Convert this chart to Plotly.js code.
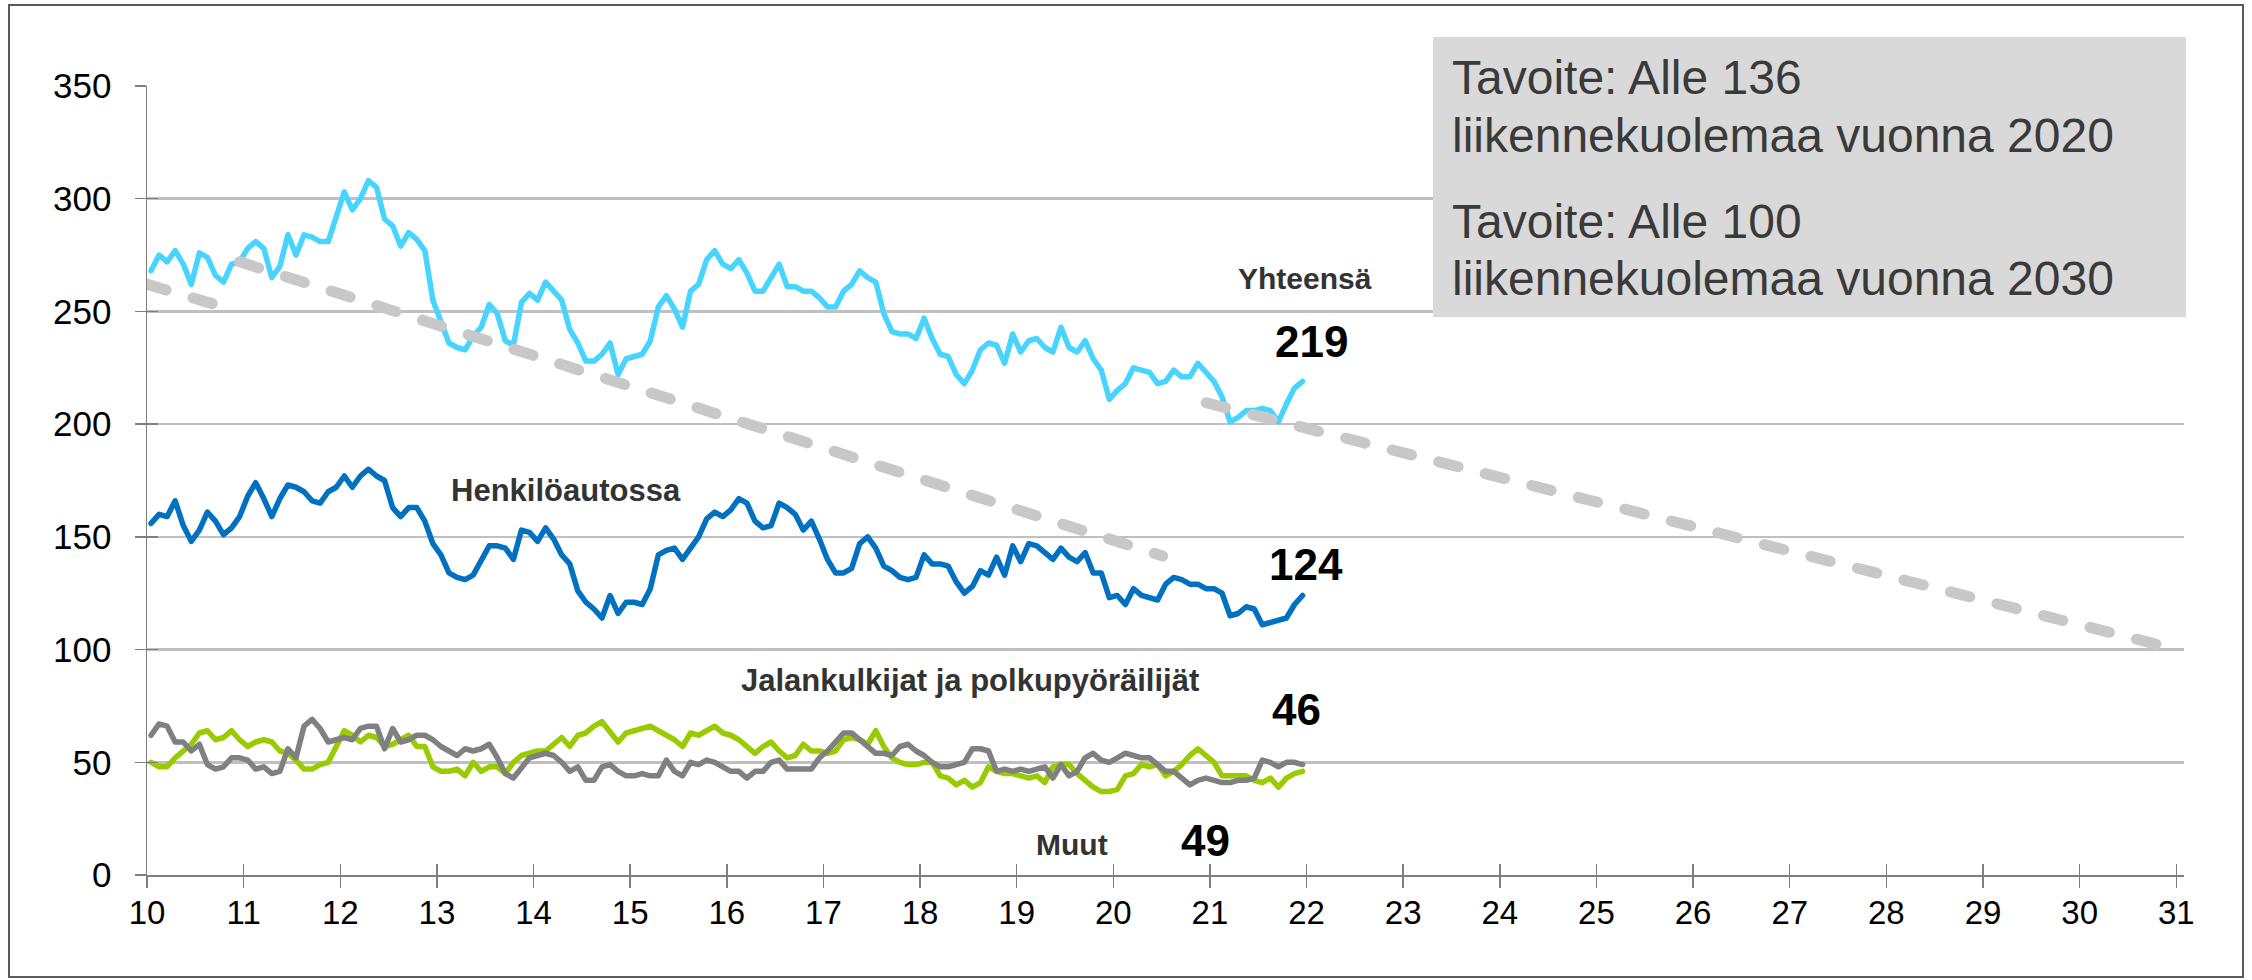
<!DOCTYPE html>
<html>
<head>
<meta charset="utf-8">
<script src="https://cdn.plot.ly/plotly-3.0.1.min.js"></script>
<style>
  html, body { margin: 0; padding: 0; background: #ffffff; }
  #chart { width: 2252px; height: 980px; }
  .scatterlayer path.js-line { stroke-linecap: round !important; stroke-linejoin: round !important; }
</style>
</head>
<body>
<div id="chart"></div>
<script>
// ---- Data (12-month rolling sums, monthly, Jan 2010 .. Dec 2021) ----
const yhteensa = [
  268, 275, 272, 277, 271, 262, 276, 274, 266, 263, 271, 272,
  278, 281, 278, 265, 270, 284, 275, 284, 283, 281, 281, 292,
  303, 295, 300, 308, 305, 291, 288, 279, 285, 282, 277, 255,
  246, 236, 234, 233, 239, 243, 253, 249, 237, 235, 254, 258,
  255, 263, 259, 255, 242, 236, 228, 228, 231, 236, 222, 229,
  230, 231, 237, 252, 257, 251, 243, 259, 262, 273, 277, 271,
  269, 273, 267, 259, 259, 265, 271, 261, 261, 259, 259, 256,
  252, 252, 259, 262, 268, 265, 263, 249, 241, 240, 240, 238,
  247, 238, 231, 230, 222, 218, 224, 233, 236, 235, 227, 240,
  232, 237, 238, 234, 232, 243, 234, 232, 237, 229, 224, 211,
  215, 218, 225, 224, 223, 218, 219, 224, 221, 221, 227, 223,
  219, 212, 201, 203, 206, 206, 207, 206, 201, 209, 216, 219
];
const henkiloautossa = [
  156, 160, 159, 166, 155, 148, 153, 161, 157, 151, 154, 159,
  168, 174, 167, 159, 167, 173, 172, 170, 166, 165, 170, 172,
  177, 172, 177, 180, 177, 175, 163, 159, 163, 163, 157, 147,
  142, 134, 132, 131, 133, 140, 146, 146, 145, 140, 153, 152,
  148, 154, 149, 142, 138, 126, 121, 118, 114, 124, 116, 121,
  121, 120, 127, 142, 144, 145, 140, 145, 150, 158, 161, 159,
  162, 167, 165, 157, 154, 155, 165, 163, 160, 153, 157, 149,
  140, 134, 134, 136, 147, 150, 145, 137, 135, 132, 131, 132,
  142, 138, 138, 137, 130, 125, 128, 135, 133, 141, 133, 146,
  139, 147, 146, 143, 140, 145, 141, 139, 143, 134, 134, 123,
  124, 120, 127, 124, 123, 122, 129, 132, 131, 129, 129, 127,
  127, 125, 115, 116, 119, 118, 111, 112, 113, 114, 120, 124
];
const jalankulkijat = [
  50, 48, 48, 52, 55, 58, 63, 64, 60, 61, 64, 60,
  57, 59, 60, 59, 55, 54, 51, 47, 47, 49, 50, 57,
  64, 62, 59, 62, 61, 57, 58, 60, 62, 57, 57, 48,
  46, 46, 47, 44, 50, 46, 48, 48, 45, 50, 53, 54,
  55, 55, 58, 61, 57, 62, 63, 66, 68, 63, 59, 63,
  64, 65, 66, 64, 62, 60, 57, 63, 62, 64, 66, 63,
  62, 60, 57, 54, 57, 59, 55, 52, 53, 58, 55, 55,
  54, 55, 60, 61, 60, 58, 64, 57, 52, 50, 49, 49,
  50, 50, 44, 43, 40, 42, 39, 41, 48, 46, 45, 45,
  44, 43, 44, 41, 48, 49, 49, 45, 42, 39, 37, 37,
  38, 44, 45, 49, 48, 49, 44, 46, 49, 53, 56, 53,
  50, 44, 44, 44, 44, 42, 41, 43, 39, 43, 45, 46
];
const muut = [
  62, 67, 66, 59, 59, 55, 58, 49, 47, 48, 52, 52,
  51, 47, 48, 45, 46, 56, 52, 66, 69, 65, 59, 60,
  61, 60, 65, 66, 66, 56, 65, 59, 60, 62, 62, 60,
  57, 55, 53, 56, 55, 56, 58, 52, 45, 43, 48, 52,
  53, 54, 53, 50, 46, 48, 42, 42, 48, 49, 46, 44,
  44, 45, 44, 44, 51, 46, 44, 50, 49, 51, 50, 48,
  46, 46, 43, 46, 46, 50, 51, 47, 47, 47, 47, 52,
  55, 59, 63, 63, 60, 57, 54, 54, 53, 57, 58, 55,
  53, 50, 48, 48, 49, 50, 56, 56, 55, 46, 47, 46,
  47, 46, 47, 48, 43, 49, 44, 46, 52, 54, 51, 50,
  52, 54, 53, 52, 52, 49, 46, 46, 43, 40, 42, 43,
  42, 41, 41, 42, 42, 43, 51, 50, 48, 50, 50, 49
];
// Target lines (dashed): [year, value]
const targetOldX = [10.0, 10.75];
const targetOldY = [262, 252.5];
const target2020X = [10.958, 20.51];
const target2020Y = [272, 141.5];
const target2030X = [20.96, 30.8];
const target2030Y = [209.5, 102.3];

const xTickVals = [10,11,12,13,14,15,16,17,18,19,20,21,22,23,24,25,26,27,28,29,30,31];
const xTickLabels = ['10','11','12','13','14','15','16','17','18','19','20','21','22','23','24','25','26','27','28','29','30','31'];
const yTickVals = [0, 50, 100, 150, 200, 250, 300, 350];

// month positions on the year axis (month centre)
const months = yhteensa.map((_, i) => 10 + (i + 0.5) / 12);

// ---- Layout geometry ----
const W = 2252, H = 980;
const M = { l: 147, r: 68, t: 86, b: 105 };
const PW = W - M.l - M.r, PH = H - M.t - M.b;
const px = x => (x - M.l) / PW;
const py = y => (H - M.b - y) / PH;

const FONT = 'Liberation Sans, Arial, sans-serif';
const C = { cyan: '#47D4FF', blue: '#0070C0', green: '#99CC00', gray: '#808080', dash: '#C8C8C8' };

function line(x, y, color, width, extra) {
  return Object.assign({ type: 'scatter', mode: 'lines', x: x, y: y,
    line: { color: color, width: width }, hoverinfo: 'skip' }, extra || {});
}

const traces = [
  line(months, jalankulkijat, C.green, 5.5),
  line(months, muut, C.gray, 5.5),
  line(months, henkiloautossa, C.blue, 5.5),
  line(months, yhteensa, C.cyan, 5.5),
  line(targetOldX, targetOldY, C.dash, 11, { xaxis: 'x3', yaxis: 'y2' }),
  line(target2020X, target2020Y, C.dash, 11, { xaxis: 'x2', yaxis: 'y2' }),
  line(target2030X, target2030Y, C.dash, 11, { xaxis: 'x2', yaxis: 'y2' })
];
traces.slice(4).forEach(t => t.line.dash = '20px,28px');

function lbl(text, x, y, size, color, bold, anchor) {
  return { text: bold ? '<b>' + text + '</b>' : text, xref: 'paper', yref: 'paper',
    x: px(x), y: py(y), xanchor: anchor || 'center', yanchor: 'middle', showarrow: false,
    font: { family: FONT, size: size, color: color } };
}

const annotations = [
  lbl('Yhteensä', 1305, 278, 30, '#333333', true),
  lbl('219', 1311, 341, 44, '#000000', true),
  lbl('Henkilöautossa', 566, 490, 31, '#333333', true),
  lbl('124', 1306, 564, 44, '#000000', true),
  lbl('Jalankulkijat ja polkupyöräilijät', 970, 680, 31, '#333333', true),
  lbl('46', 1296, 709, 44, '#000000', true),
  lbl('Muut', 1072, 844, 30, '#333333', true),
  lbl('49', 1205, 840, 44, '#000000', true),
  lbl('Tavoite: Alle 136', 1450, 77, 48, '#3A3A3A', false, 'left'),
  lbl('liikennekuolemaa vuonna 2020', 1450, 135, 48, '#3A3A3A', false, 'left'),
  lbl('Tavoite: Alle 100', 1450, 221, 48, '#3A3A3A', false, 'left'),
  lbl('liikennekuolemaa vuonna 2030', 1450, 278, 48, '#3A3A3A', false, 'left')
];

const shapes = [
  { type: 'rect', xref: 'paper', yref: 'paper', layer: 'above',
    x0: px(1433), x1: px(2186), y0: py(317), y1: py(37),
    fillcolor: '#D9D9D9', line: { width: 0 } },
  { type: 'rect', xref: 'paper', yref: 'paper', layer: 'above',
    x0: px(9), x1: px(2243), y0: py(977), y1: py(5),
    fillcolor: 'rgba(0,0,0,0)', line: { color: '#595959', width: 2 } }
];

const tickCommon = { tickcolor: '#7F7F7F', tickwidth: 1.5, ticklen: 11 };
const XR = [10, 31.08];

const layout = {
  width: W, height: H, margin: M, showlegend: false,
  paper_bgcolor: '#ffffff', plot_bgcolor: '#ffffff',
  font: { family: FONT, color: '#000000' },
  // main x axis: line + outside tick marks, no labels
  xaxis: Object.assign({ range: XR, tickmode: 'array', tickvals: xTickVals,
    ticks: 'outside', showline: true, linecolor: '#7F7F7F', linewidth: 2,
    showgrid: false, zeroline: false, showticklabels: false, fixedrange: true }, tickCommon),
  yaxis: Object.assign({ range: [0, 350], tickmode: 'array', tickvals: yTickVals,
    ticks: 'outside', showline: true, linecolor: '#7F7F7F', linewidth: 1.5,
    showgrid: true, gridcolor: '#C0C0C0', gridwidth: 2.5, zeroline: false, ticklabelstandoff: 16,
    tickfont: { family: FONT, size: 35, color: '#000000' }, fixedrange: true }, tickCommon),
  // overlay x axis: inside half of the crossing tick marks
  xaxis2: Object.assign({ overlaying: 'x', anchor: 'y2', range: XR, tickmode: 'array', tickvals: xTickVals,
    ticks: 'inside', showticklabels: false, showline: false, showgrid: false, zeroline: false, fixedrange: true }, tickCommon),
  // overlay x axis: tick labels
  xaxis3: { overlaying: 'x', anchor: 'y2', range: XR, tickmode: 'array', tickvals: xTickVals, ticktext: xTickLabels,
    ticks: 'outside', ticklen: 8, tickcolor: 'rgba(0,0,0,0)', showline: false, showgrid: false, zeroline: false,
    tickfont: { family: FONT, size: 33, color: '#000000' }, fixedrange: true },
  yaxis2: Object.assign({ overlaying: 'y', anchor: 'x2', range: [0, 350], tickmode: 'array', tickvals: yTickVals,
    ticks: 'inside', showticklabels: false, showline: false, showgrid: false, zeroline: false, fixedrange: true }, tickCommon),
  annotations: annotations,
  shapes: shapes
};

Plotly.newPlot('chart', traces, layout, { displayModeBar: false, staticPlot: true });
</script>
</body>
</html>
